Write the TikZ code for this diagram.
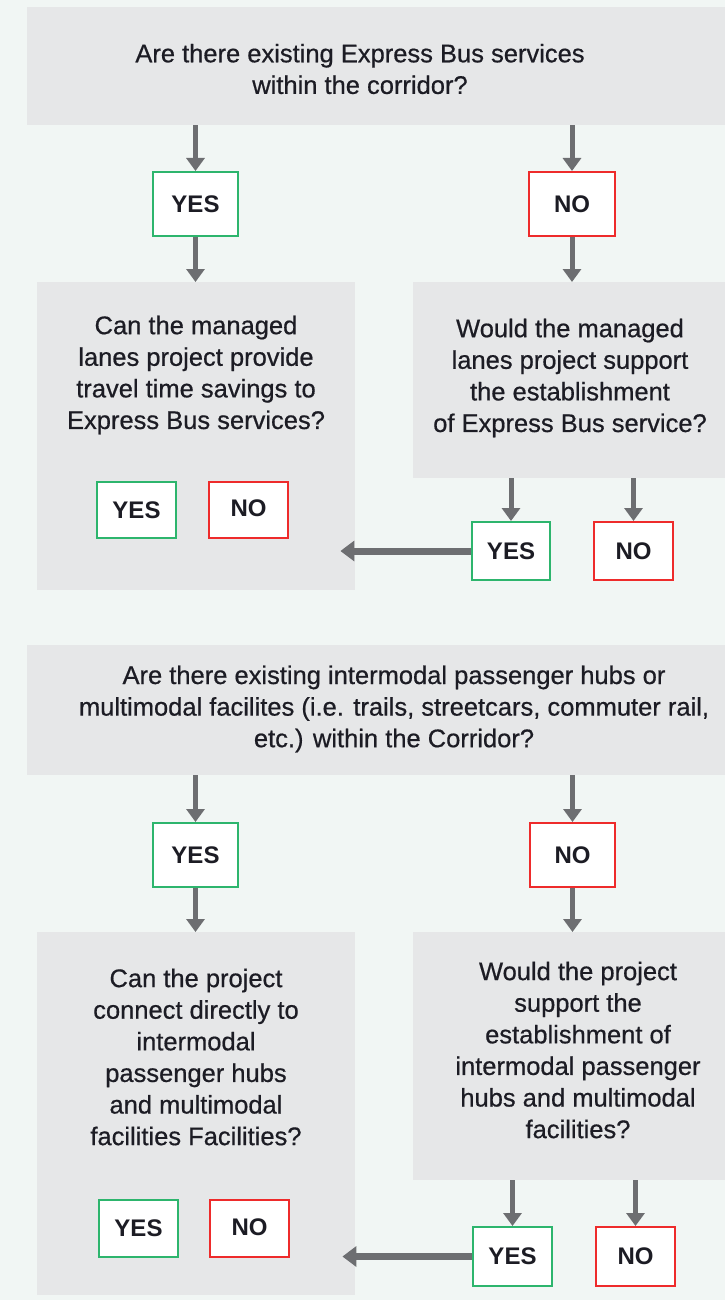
\documentclass[tikz,border=0pt]{standalone}
\usepackage{fontspec}
\setmainfont{Liberation Sans}
\newfontfamily\qfont{Liberation Sans}[FakeBold=0.6]
\usetikzlibrary{arrows.meta, positioning}
\definecolor{fond}{HTML}{F1F6F4}
\definecolor{gris}{HTML}{E6E7E8}
\definecolor{grisfleche}{HTML}{6D6E71}
\definecolor{vert}{HTML}{2DB56D}
\definecolor{rouge}{HTML}{EE2B2B}
\definecolor{encre}{HTML}{1C1C24}
\tikzstyle{fleche} = [-{Triangle[width=18pt,length=13pt]},color=grisfleche,line width=5pt]
\tikzstyle{retour} = [-{Triangle[width=20pt,length=14pt]},color=grisfleche,line width=7pt]
\tikzstyle{boite} = [rectangle,fill=gris,draw=none,inner sep=0pt,anchor=north west]
\tikzstyle{question} = [align=center,inner sep=0pt,text=encre,font=\qfont\fontsize{25.5}{31.6}\selectfont]
\tikzstyle{oui} = [rectangle,draw=vert,fill=white,line width=2pt,inner sep=0pt,text=encre,font=\bfseries\fontsize{24}{26}\selectfont]
\tikzstyle{non} = [rectangle,draw=rouge,fill=white,line width=2pt,inner sep=0pt,text=encre,font=\bfseries\fontsize{24}{26}\selectfont]

\begin{document}
\begin{tikzpicture}[x=1pt,y=-1pt]
	\fill[fond] (0,0) rectangle (725,1300);

%% Express Bus : boites grises
	\node[boite,minimum width=698,minimum height=118] (q1) at (27,7) {};
	\node[question] (q1t) at (360,69) {Are there existing Express Bus services\\within the corridor?};

	\node[boite,minimum width=318,minimum height=308] (b1) at (37,282) {};
	\node[question] (b1t) at (196,375) {Can the managed\\lanes project provide\\travel time savings to\\Express Bus services?};

	\node[boite,minimum width=312,minimum height=196] (b2) at (413,282) {};
	\node[question] (b2t) at (570,378) {Would the managed\\lanes project support\\the establishment\\of Express Bus service?};

%% Express Bus : oui / non
	\node[oui,minimum width=85,minimum height=64] (oui1) at (195.5,204) {YES};
	\node[non,minimum width=86,minimum height=64] (non1) at (572,204) {NO};

	\node[oui,minimum width=79,minimum height=56] (oui2) at (136.5,510) {YES};
	\node[non,minimum width=79,minimum height=56] (non2) at (248.5,510) {\raisebox{3pt}{NO}};

	\node[oui,minimum width=78,minimum height=58] (oui3) at (511,551) {YES};
	\node[non,minimum width=79,minimum height=58] (non3) at (633.5,551) {NO};

%% Express Bus : fleches
	\draw[fleche] (q1.south -| oui1.north) -- (oui1.north);
	\draw[fleche] (q1.south -| non1.north) -- (non1.north);
	\draw[fleche] (oui1.south) -- (oui1.south |- b1.north);
	\draw[fleche] (non1.south) -- (non1.south |- b2.north);
	\draw[fleche] (oui3.north |- b2.south) -- (oui3.north);
	\draw[fleche] (non3.north |- b2.south) -- (non3.north);
	\draw[retour] (oui3.west) -- ([xshift=-15pt]b1.east |- oui3.west);

%% Poles intermodaux : boites grises
	\node[boite,minimum width=698,minimum height=130] (q2) at (27,645) {};
	\node[question] (q2t) at (394,709) {Are there existing intermodal passenger hubs or\\multimodal facilites (i.e. trails, streetcars, commuter rail,\\etc.) within the Corridor?};

	\node[boite,minimum width=318,minimum height=363] (b3) at (37,932) {};
	\node[question] (b3t) at (196,1057) {Can the project\\connect directly to\\intermodal\\passenger hubs\\and multimodal\\facilities Facilities?};

	\node[boite,minimum width=312,minimum height=248] (b4) at (413,932) {};
	\node[question] (b4t) at (578,1050) {Would the project\\support the\\establishment of\\intermodal passenger\\hubs and multimodal\\facilities?};

%% Poles intermodaux : oui / non
	\node[oui,minimum width=85,minimum height=64] (oui4) at (195.5,855) {YES};
	\node[non,minimum width=85,minimum height=64] (non4) at (572.5,855) {NO};

	\node[oui,minimum width=79,minimum height=57] (oui5) at (138.5,1228.5) {YES};
	\node[non,minimum width=79,minimum height=57] (non5) at (249.5,1228.5) {\raisebox{3pt}{NO}};

	\node[oui,minimum width=79,minimum height=59] (oui6) at (512.5,1256.5) {YES};
	\node[non,minimum width=79,minimum height=59] (non6) at (635.5,1256.5) {NO};

%% Poles intermodaux : fleches
	\draw[fleche] (q2.south -| oui4.north) -- (oui4.north);
	\draw[fleche] (q2.south -| non4.north) -- (non4.north);
	\draw[fleche] (oui4.south) -- (oui4.south |- b3.north);
	\draw[fleche] (non4.south) -- (non4.south |- b4.north);
	\draw[fleche] (oui6.north |- b4.south) -- (oui6.north);
	\draw[fleche] (non6.north |- b4.south) -- (non6.north);
	\draw[retour] (oui6.west) -- ([xshift=-13pt]b3.east |- oui6.west);

\end{tikzpicture}
\end{document}
